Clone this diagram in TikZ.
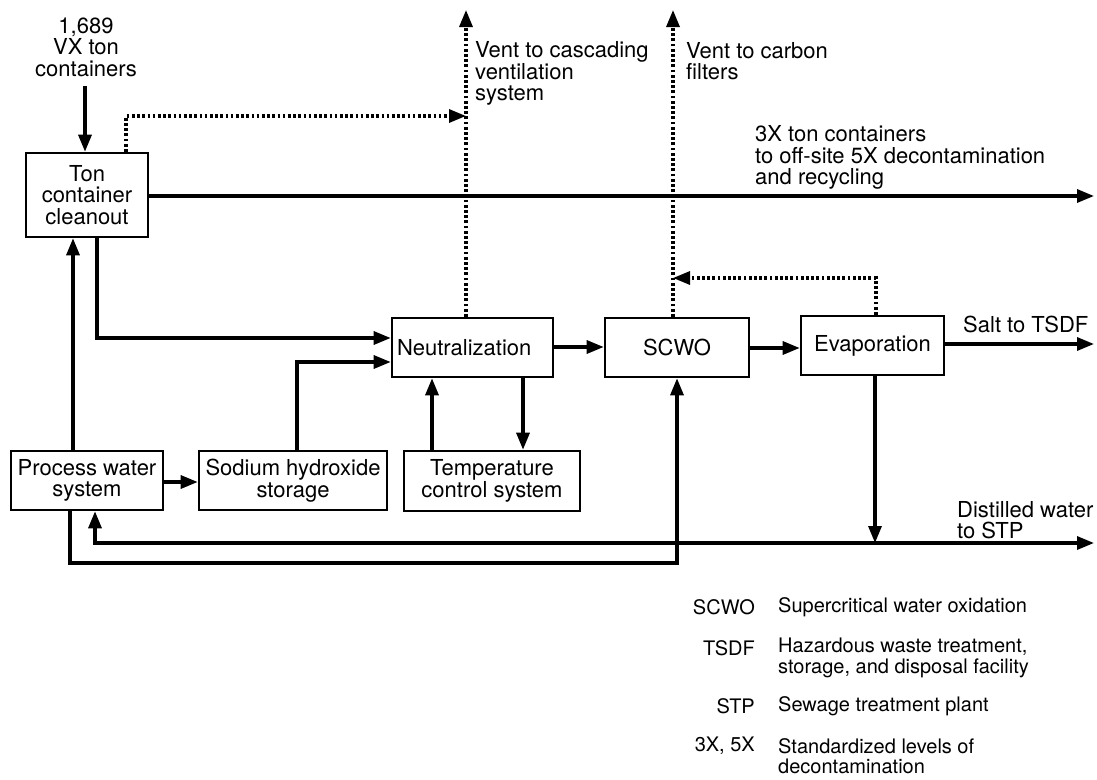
\documentclass[tikz,border=0pt]{standalone}
\usepackage{fontspec}
\setmainfont{TeX Gyre Heros}
\usetikzlibrary{arrows.meta}
\begin{document}
\begin{tikzpicture}[x=1pt,y=-1pt,
  every node/.style={font=\fontsize{22pt}{21.5pt}\selectfont, inner sep=0pt},
  legend/.style={font=\fontsize{20pt}{20.5pt}\selectfont},
  box/.style={draw, line width=2.6pt, align=center},
  conn/.style={line width=3.2pt, -{Triangle[length=17pt,width=13pt]}},
  both/.style={line width=3.2pt, {Triangle[length=17pt,width=13pt]}-{Triangle[length=17pt,width=13pt]}},
  darr/.style={line width=3.2pt, dash pattern=on 2.7pt off 2.5pt, -{Triangle[length=17pt,width=13pt]}}
]
\useasboundingbox (0,0) rectangle (1097,779);

% boxes
\node[box, minimum width=122pt, minimum height=84pt] (ton) at (87,195) {Ton\\container\\cleanout};
\node[box, minimum width=161pt, minimum height=59pt, text width=151pt, align=left, inner xsep=5pt] (neut) at (472.5,347.5) {Neutralization};
\node[box, minimum width=144pt, minimum height=59pt] (scwo) at (677,347.5) {SCWO};
\node[box, minimum width=143pt, minimum height=59pt] (evap) at (872.5,345.5) {Evaporation};
\node[box, minimum width=152pt, minimum height=59pt] (proc) at (87,480.5) {Process water\\system};
\node[box, minimum width=188pt, minimum height=59pt] (soda) at (293,480.5) {Sodium hydroxide\\storage};
\node[box, minimum width=176pt, minimum height=60pt] (temp) at (492,481) {Temperature\\control system};

% labels
\node[align=center] (src) at (86,47) {1,689\\VX ton\\containers};
\node[anchor=west, align=left] (lblA) at (475,73.5) {Vent to cascading\\ventilation\\system};
\node[anchor=west, align=left] (lblB) at (686,61) {Vent to carbon\\filters};
\node[anchor=west, align=left] (lblC) at (755,157.5) {3X ton containers\\to off-site 5X decontamination\\and recycling};
\node[anchor=west] (lblD) at (963,324) {Salt to TSDF};
\node[anchor=west, align=left] (lblE) at (957,520) {Distilled water\\to STP};

% coordinates
\coordinate (inTop) at (85,86);
\coordinate (ventA) at (466,10);
\coordinate (ventB) at (673,10);
\coordinate (dotA) at (126,116);
\coordinate (outTon) at (1094,196);
\coordinate (tonN) at (97,338);
\coordinate (naN) at (297,362);
\coordinate (pwT) at (73,300);
\coordinate (ps) at (180,482);
\coordinate (tcU) at (432,420);
\coordinate (tcD) at (523,420);
\coordinate (ns) at (580,347);
\coordinate (se) at (775,348);
\coordinate (salt) at (1094,344);
\coordinate (evR) at (876,278);
\coordinate (evD) at (875,543);
\coordinate (dist) at (1094,543);
\coordinate (distIn) at (95,543);
\coordinate (loop) at (70,563);
\coordinate (scU) at (677,563);

% connectors
\draw[conn] (inTop) -- (ton.north -| inTop);
\draw[darr] (ton.north -| dotA) -- (dotA) -- (dotA -| ventA);
\draw[darr] (neut.north -| ventA) -- (ventA);
\draw[darr] (scwo.north -| ventB) -- (ventB);
\draw[conn] (ton.east |- outTon) -- (outTon);
\draw[conn] (ton.south -| tonN) -- (tonN) -- (neut.west |- tonN);
\draw[conn] (soda.north -| naN) -- (naN) -- (neut.west |- naN);
\draw[conn] (proc.north -| pwT) -- (ton.south -| pwT);
\draw[conn] (proc.east |- ps) -- (soda.west |- ps);
\draw[conn] (temp.north -| tcU) -- (neut.south -| tcU);
\draw[conn] (neut.south -| tcD) -- (temp.north -| tcD);
\draw[conn] (neut.east |- ns) -- (scwo.west |- ns);
\draw[conn] (scwo.east |- se) -- (evap.west |- se);
\draw[conn] (evap.east |- salt) -- (salt);
\draw[darr] (evap.north -| evR) -- (evR) -- (evR -| ventB);
\draw[conn] (evap.south -| evD) -- (evD);
\draw[both] (proc.south -| distIn) -- (distIn) -- (dist);
\draw[conn] (proc.south -| loop) -- (loop) -- (scU) -- (scwo.south -| scU);

% legend
\node[legend, anchor=east] (k1) at (755,607) {SCWO};
\node[legend, anchor=west, align=left] (d1) at (778,607) {Supercritical water oxidation};
\node[legend, anchor=east] (k2) at (755,648) {TSDF};
\node[legend, anchor=west, align=left] (d2) at (778,658) {Hazardous waste treatment,\\storage, and disposal facility};
\node[legend, anchor=east] (k3) at (755,706) {STP};
\node[legend, anchor=west, align=left] (d3) at (778,706) {Sewage treatment plant};
\node[legend, anchor=east] (k4) at (755,746) {3X, 5X};
\node[legend, anchor=west, align=left] (d4) at (778,756) {Standardized levels of\\decontamination};
\end{tikzpicture}
\end{document}
